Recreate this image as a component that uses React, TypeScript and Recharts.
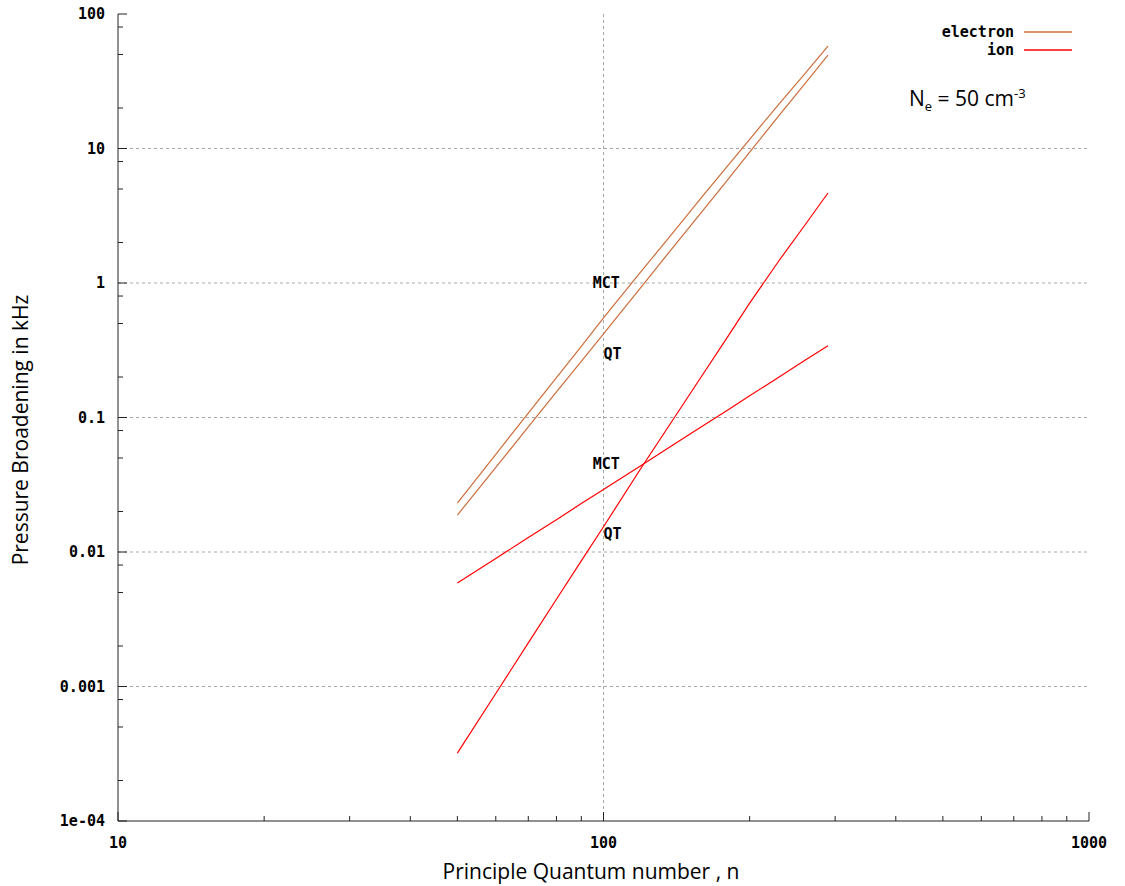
import React from 'react';
import {
  LineChart, Line, XAxis, YAxis, ReferenceLine, ReferenceDot, Legend,
} from 'recharts';

// principal quantum number n (x) and broadening in kHz (y)
const nValues = [50, 60, 70, 80, 90, 100, 120, 140, 160, 180, 200, 230, 260, 290];
const electronMCT = [0.0231, 0.0533, 0.108, 0.198, 0.338, 0.55, 1.24, 2.44, 4.43, 7.41, 11.7, 21.5, 36, 57.8];
const electronQT = [0.0188, 0.0426, 0.085, 0.155, 0.261, 0.418, 0.948, 1.9, 3.44, 5.83, 9.38, 17.6, 30.4, 49.5];
const ionMCT = [0.00589, 0.00896, 0.0128, 0.0174, 0.0229, 0.0292, 0.0444, 0.0635, 0.0865, 0.113, 0.145, 0.2, 0.266, 0.342];
const ionQT = [0.00032, 0.000887, 0.00211, 0.00445, 0.0086, 0.0154, 0.043, 0.1, 0.208, 0.396, 0.708, 1.47, 2.7, 4.67];

const xMajor = [10, 100, 1000];
const xMinor = [20, 30, 40, 50, 60, 70, 80, 90, 200, 300, 400, 500, 600, 700, 800, 900];
const yMajor = [1e-4, 0.001, 0.01, 0.1, 1, 10, 100];
const yMinor = [2e-4, 5e-4, 8e-4, 0.002, 0.005, 0.008, 0.02, 0.05, 0.08, 0.2, 0.5, 0.8, 2, 5, 8, 20, 50, 80];
const yGrid = [0.001, 0.01, 0.1, 1, 10];
const xGrid = [100];

const yLabel = (v: number) => (v === 1e-4 ? '1e-04' : String(v));

const ELECTRON = '#cd6e3c';
const ION = '#ff0000';
const MONO = '"DejaVu Sans Mono", monospace';
const SANS = '"Open Sans", "DejaVu Sans", sans-serif';

const data = nValues.map((n, i) => ({
  n,
  eMCT: electronMCT[i],
  eQT: electronQT[i],
  iMCT: ionMCT[i],
  iQT: ionQT[i],
}));

const tickText = { fontFamily: MONO, fontWeight: 'bold' as const, fontSize: 15, fill: '#000' };

const BottomTick = ({ x, y, payload }: any) => {
  const major = xMajor.includes(payload.value);
  return (
    <g>
      <line x1={x} y1={y} x2={x} y2={y - (major ? 9 : 5)} stroke="#222" />
      {major && <text x={x} y={y + 27} textAnchor="middle" {...tickText}>{payload.value}</text>}
    </g>
  );
};

const TopTick = ({ x, y, payload }: any) => {
  const major = xMajor.includes(payload.value);
  return <line x1={x} y1={y} x2={x} y2={y + (major ? 9 : 5)} stroke="#222" />;
};

const LeftTick = ({ x, y, payload }: any) => {
  const major = yMajor.includes(payload.value);
  return (
    <g>
      <line x1={x} y1={y} x2={x + (major ? 9 : 5)} y2={y} stroke="#222" />
      {major && <text x={x - 13} y={y + 5} textAnchor="end" {...tickText}>{yLabel(payload.value)}</text>}
    </g>
  );
};

const RightTick = ({ x, y, payload }: any) => {
  const major = yMajor.includes(payload.value);
  return <line x1={x} y1={y} x2={x - (major ? 9 : 5)} y2={y} stroke="#222" />;
};

const LegendBox = () => (
  <div style={{ fontFamily: MONO, fontWeight: 'bold', fontSize: 15, color: '#000' }}>
    {[{ name: 'electron', color: ELECTRON }, { name: 'ion', color: ION }].map(item => (
      <div key={item.name} style={{ display: 'flex', alignItems: 'center', justifyContent: 'flex-end', height: 18 }}>
        <span>{item.name}</span>
        <svg width={58} height={4}>
          <line x1={10} y1={2} x2={58} y2={2} stroke={item.color} strokeWidth={1.5} />
        </svg>
      </div>
    ))}
  </div>
);

const note = (value: string) => ({
  value,
  position: 'right' as const,
  offset: 0,
  style: { fontFamily: MONO, fontWeight: 'bold', fontSize: 15, fill: '#000' },
});

export default function App() {
  const W = 1125;
  const H = 886;
  return (
    <div style={{ position: 'absolute', left: 0, top: 0, width: W, height: H, background: '#fff' }}>
      <LineChart width={W} height={H} data={data} margin={{ top: 14, right: 36, bottom: 0, left: 0 }}>
        <XAxis
          dataKey="n" type="number" scale="log" domain={[10, 1000]} allowDataOverflow
          ticks={[...xMajor, ...xMinor]} interval={0} height={65}
          tickSize={0} tickMargin={0} tick={<BottomTick />} tickLine={false}
          axisLine={{ stroke: '#222' }}
        />
        <XAxis
          xAxisId="top" orientation="top" type="number" scale="log" domain={[10, 1000]} allowDataOverflow
          ticks={[...xMajor, ...xMinor]} interval={0} height={0}
          tickSize={0} tickMargin={0} tick={<TopTick />} tickLine={false}
          axisLine={{ stroke: '#222' }}
        />
        <YAxis
          type="number" scale="log" domain={[1e-4, 100]} allowDataOverflow
          ticks={[...yMajor, ...yMinor]} interval={0} width={118}
          tickSize={0} tickMargin={0} tick={<LeftTick />} tickLine={false}
          axisLine={{ stroke: '#222' }}
        />
        <YAxis
          yAxisId="right" orientation="right" type="number" scale="log" domain={[1e-4, 100]} allowDataOverflow
          ticks={[...yMajor, ...yMinor]} interval={0} width={0}
          tickSize={0} tickMargin={0} tick={<RightTick />} tickLine={false}
          axisLine={{ stroke: '#222' }}
        />

        {yGrid.map(v => (
          <ReferenceLine key={`gy-${v}`} y={v} stroke="#a8a8a8" strokeDasharray="3 3" />
        ))}
        {xGrid.map(v => (
          <ReferenceLine key={`gx-${v}`} x={v} stroke="#a8a8a8" strokeDasharray="3 3" />
        ))}

        <Line dataKey="eMCT" stroke={ELECTRON} strokeWidth={1.2} dot={false} isAnimationActive={false} legendType="none" />
        <Line dataKey="eQT" stroke={ELECTRON} strokeWidth={1.2} dot={false} isAnimationActive={false} legendType="none" />
        <Line dataKey="iMCT" stroke={ION} strokeWidth={1.2} dot={false} isAnimationActive={false} legendType="none" />
        <Line dataKey="iQT" stroke={ION} strokeWidth={1.2} dot={false} isAnimationActive={false} legendType="none" />

        <ReferenceDot x={95} y={1} r={0} fill="none" stroke="none" label={note('MCT')} />
        <ReferenceDot x={100} y={0.3} r={0} fill="none" stroke="none" label={note('QT')} />
        <ReferenceDot x={95} y={0.045} r={0} fill="none" stroke="none" label={note('MCT')} />
        <ReferenceDot x={100} y={0.0136} r={0} fill="none" stroke="none" label={note('QT')} />

        <Legend
          content={<LegendBox />} layout="horizontal" verticalAlign="middle" align="center"
          wrapperStyle={{ top: 23, right: 53, left: 'auto', width: 'auto' }}
        />
      </LineChart>

      <div style={{
        position: 'absolute', left: 20, top: 430, transform: 'translate(-50%, -50%) rotate(-90deg)',
        whiteSpace: 'nowrap', fontFamily: SANS, fontSize: 21, color: '#000',
      }}>
        Pressure Broadening in kHz
      </div>
      <div style={{
        position: 'absolute', left: 591, top: 871, transform: 'translate(-50%, -50%)',
        whiteSpace: 'nowrap', fontFamily: SANS, fontSize: 21, color: '#000',
      }}>
        Principle Quantum number , n
      </div>
      <div style={{
        position: 'absolute', left: 909, top: 84, whiteSpace: 'nowrap',
        fontFamily: SANS, fontSize: 21, color: '#000',
      }}>
        N<sub style={{ fontSize: 13 }}>e</sub> = 50 cm<sup style={{ fontSize: 13 }}>-3</sup>
      </div>
    </div>
  );
}
